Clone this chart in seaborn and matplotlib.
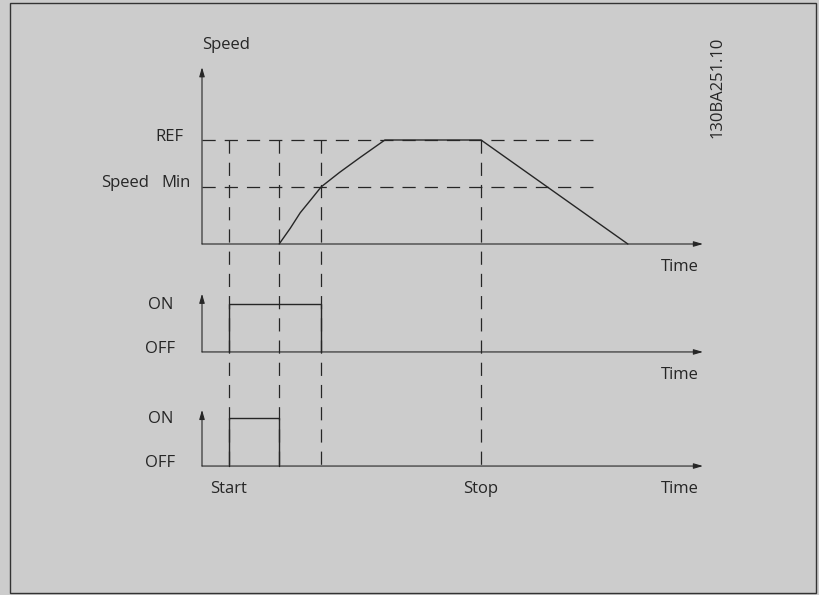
import matplotlib
matplotlib.use("Agg")
import matplotlib.pyplot as plt
from matplotlib.patches import Rectangle
import seaborn as sns

# speed profile (time in arbitrary units, speed relative to REF)
ramp_time = [1.54, 1.76, 1.96, 2.18, 2.38, 2.75, 3.15, 3.65, 5.57, 8.50]
ramp_speed = [0.00, 0.15, 0.30, 0.43, 0.55, 0.69, 0.83, 1.00, 1.00, 0.00]

# levels and event times
ref_level = 1.0
min_level = 0.55
t_start = 0.54
t_run = 1.54
t_min = 2.38
t_stop = 5.57
t_dash_end = 7.88
t_axis_end = 10.0

# on/off signals: (on time, off time)
signal1 = [t_start, t_min]
signal2 = [t_start, t_run]
on_off_labels = ["ON", "OFF"]
level_labels = ["REF", "Min"]
event_labels = ["Start", "Stop"]

# layout (panel baselines and heights in plot units)
base_speed, base_sig1, base_sig2 = 0.0, -1.038, -2.135
on_height = 0.465
ink = "#262626"
fs = 12

sns.set_theme(style="white", rc={"figure.facecolor": "#cccccc",
                                 "axes.facecolor": "#cccccc"})
plt.rcParams["font.family"] = ["Open Sans", "DejaVu Sans"]
plt.rcParams["lines.scale_dashes"] = False

fig = plt.figure(figsize=(8.19, 5.95), dpi=100)
ax = fig.add_axes([0, 0, 1, 1])
ax.axis("off")
ax.set_xlim(-202 / 50.1, 617 / 50.1)
ax.set_ylim(-351 / 104, 244 / 104)

# outer frame
fig.patches.append(Rectangle((10 / 819, 2 / 595), 806 / 819, 590 / 595,
                             transform=fig.transFigure, fill=False,
                             edgecolor="#333333", lw=1.0))

arrow = dict(arrowstyle="-|>,head_length=0.55,head_width=0.16", color=ink,
             lw=0.8, mutation_scale=10, shrinkA=0, shrinkB=0)


def axes_pair(base, top):
    ax.annotate("", xy=(0, base + top), xytext=(0, base), arrowprops=arrow)
    ax.annotate("", xy=(t_axis_end, base), xytext=(0, base), arrowprops=arrow)
    ax.text(9.15, base - 0.22, "Time", fontsize=fs, color=ink,
            ha="left", va="center")


axes_pair(base_speed, 1.70)
axes_pair(base_sig1, 0.56)
axes_pair(base_sig2, 0.54)

dash = dict(color=ink, lw=0.9, ls=(0, (9.5, 6.5)))

# dashed reference levels
for lvl in [ref_level, min_level]:
    ax.plot([0, t_dash_end], [lvl, lvl], **dash)

# dashed event markers
for t in [t_start, t_run, t_min, t_stop]:
    ax.plot([t, t], [ref_level, base_sig2], **dash)

# speed curve
sns.lineplot(x=ramp_time, y=ramp_speed, sort=False, estimator=None,
             color=ink, lw=1.0, ax=ax)

# on/off pulses
for sig, base in [(signal1, base_sig1), (signal2, base_sig2)]:
    t0, t1 = sig
    sns.lineplot(x=[t0, t0, t1, t1], y=[base, base + on_height, base + on_height, base],
                 sort=False, estimator=None, color=ink, lw=1.0, ax=ax)
    ax.text(-0.83, base + on_height - 0.01, on_off_labels[0], fontsize=fs,
            color=ink, ha="center", va="center")
    ax.text(-0.83, base + 0.03, on_off_labels[1], fontsize=fs,
            color=ink, ha="center", va="center")

# labels
ax.text(0, 1.91, "Speed", fontsize=fs, color=ink, ha="left", va="center")
ax.text(-0.36, ref_level + 0.03, level_labels[0], fontsize=fs, color=ink,
        ha="right", va="center")
ax.text(-0.22, min_level + 0.04, level_labels[1], fontsize=fs, color=ink,
        ha="right", va="center")
ax.text(-1.06, min_level + 0.04, "Speed", fontsize=fs, color=ink,
        ha="right", va="center")
for t, lab in zip([t_start, t_stop], event_labels):
    ax.text(t, base_sig2 - 0.22, lab, fontsize=fs, color=ink,
            ha="center", va="center")

fig.text(718 / 819, 1 - 87 / 595, "130BA251.10", rotation=90, fontsize=fs,
         color=ink, ha="center", va="center")

fig.savefig("out.png", dpi=100, facecolor="#cccccc")
